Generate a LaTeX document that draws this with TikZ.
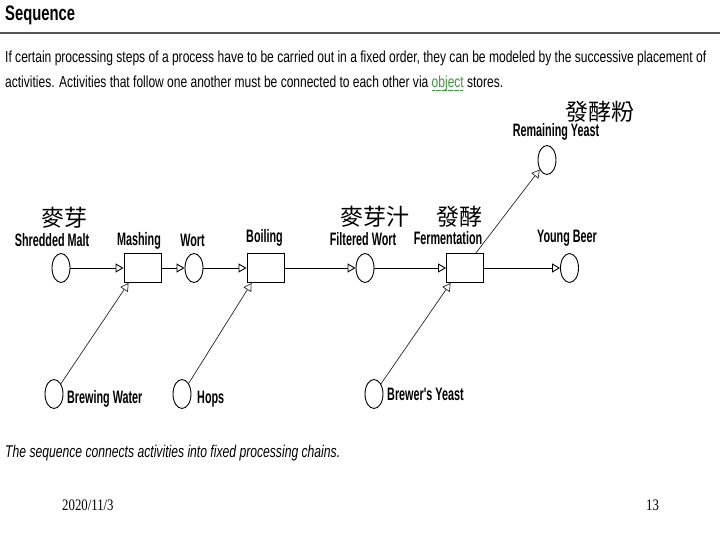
\documentclass[tikz,border=0pt]{standalone}
\usepackage{fontspec}
\usepackage{graphicx}
\usetikzlibrary{arrows.meta,shapes.geometric}
\setmainfont{Liberation Sans}
\newfontfamily\cjk{Noto Sans CJK TC}
\newfontfamily\lblfont[FakeStretch=0.6]{Liberation Sans}
\newfontfamily\datefont[FakeStretch=0.8]{Liberation Serif}
\definecolor{rulegray}{RGB}{85,85,85}
\definecolor{objgreen}{RGB}{60,150,60}
\newcommand{\dotul}[1]{\setbox0\hbox{#1}\leavevmode\rlap{\copy0}%
  \raisebox{-3pt}{\hbox to \wd0{\leaders\hbox to 1.6pt{\hss\rule{0.8pt}{0.8pt}\hss}\hfill}}}
\tikzset{
  store/.style={ellipse, draw=black, line width=0.9pt, minimum width=18pt, minimum height=29pt, inner sep=0pt},
  activity/.style={rectangle, draw=black, line width=0.9pt, minimum width=37pt, minimum height=29pt, inner sep=0pt},
  flow/.style={line width=0.9pt, -{Triangle[open,length=8pt,width=9pt]}},
  feed/.style={line width=0.7pt, black!85, -{Triangle[open,length=8pt,width=9pt]}},
  lbl/.style={font=\fontsize{18}{18}\lblfont\bfseries, anchor=base, inner sep=0pt},
  sidelbl/.style={lbl, anchor=base west},
  cjklbl/.style={font=\fontsize{23}{23}\cjk, inner sep=0pt},
  bodytxt/.style={font=\fontsize{16}{16}\selectfont, anchor=base west, inner sep=0pt}
}

\begin{document}
\begin{tikzpicture}[x=1pt,y=-1pt]
  \useasboundingbox (0,0) rectangle (720,540);

  % heading and intro text
  \node[font=\fontsize{21}{21}\selectfont\bfseries, anchor=base west, inner sep=0pt] (title) at (5,21)
    {\resizebox{70pt}{\height}{Sequence}};
  \draw[rulegray, line width=2pt] (0,33) -- (720,33);
  \node[bodytxt] (intro1) at (5,63)
    {\resizebox{701pt}{\height}{If certain processing steps of a process have to be carried out in a fixed order, they can be modeled by the successive placement of}};
  \node[bodytxt] (intro2) at (5,88)
    {\resizebox{498pt}{\height}{activities. Activities that follow one another must be connected to each other via \textcolor{objgreen}{\dotul{object}} stores.}};

  % main chain
  \node[store] (malt) at (61,268) {};
  \node[activity] (mash) at (142.5,268) {};
  \node[store] (wort) at (194,268) {};
  \node[activity] (boil) at (265.5,268) {};
  \node[store] (fwort) at (365,268) {};
  \node[activity] (ferm) at (465,268) {};
  \node[store] (ybeer) at (569.5,268) {};
  \node[store] (ryeast) at (547,160) {};

  \draw[flow] (malt) -- (mash);
  \draw[flow] (mash) -- (wort);
  \draw[flow] (wort) -- (boil);
  \draw[flow] (boil) -- (fwort);
  \draw[flow] (fwort) -- (ferm);
  \draw[flow] (ferm) -- (ybeer);
  \draw[feed] (ferm.54) -- (ryeast);

  % inputs from below
  \node[store] (water) at (54,394) {};
  \node[store] (hops) at (182,394) {};
  \node[store] (byeast) at (374,394) {};
  \draw[feed] (water) -- (mash.-133);
  \draw[feed] (hops) -- (boil.-133);
  \draw[feed] (byeast) -- (ferm.-134);

  % labels
  \node[lbl] (maltl) at (52,246) {Shredded Malt};
  \node[lbl] (mashl) at (139,245) {Mashing};
  \node[lbl] (wortl) at (192.5,246) {Wort};
  \node[lbl] (boill) at (264.5,242) {Boiling};
  \node[lbl] (fwortl) at (363,245) {Filtered Wort};
  \node[lbl] (ferml) at (448,244) {Fermentation};
  \node[lbl] (ybeerl) at (567,242) {Young Beer};
  \node[lbl] (ryeastl) at (556,137) {Remaining Yeast};
  \node[sidelbl] (waterl) at (67,403) {Brewing Water};
  \node[sidelbl] (hopsl) at (197,403) {Hops};
  \node[sidelbl] (byeastl) at (387,400) {Brewer's Yeast};

  \node[cjklbl] (maltc) at (64.5,218) {麥芽};
  \node[cjklbl] (fwortc) at (375,217) {麥芽汁};
  \node[cjklbl] (fermc) at (459.5,217) {發酵};
  \node[cjklbl] (ryeastc) at (600,112) {發酵粉};

  % footer
  \node[font=\fontsize{17}{17}\selectfont\itshape, anchor=base west, inner sep=0pt] (caption) at (5,457)
    {\resizebox{335pt}{\height}{The sequence connects activities into fixed processing chains.}};
  \node[font=\fontsize{16}{16}\datefont, anchor=base west, inner sep=0pt] (date) at (62,510) {2020/11/3};
  \node[font=\fontsize{16}{16}\datefont, anchor=base west, inner sep=0pt] (page) at (646,510) {13};
\end{tikzpicture}
\end{document}
